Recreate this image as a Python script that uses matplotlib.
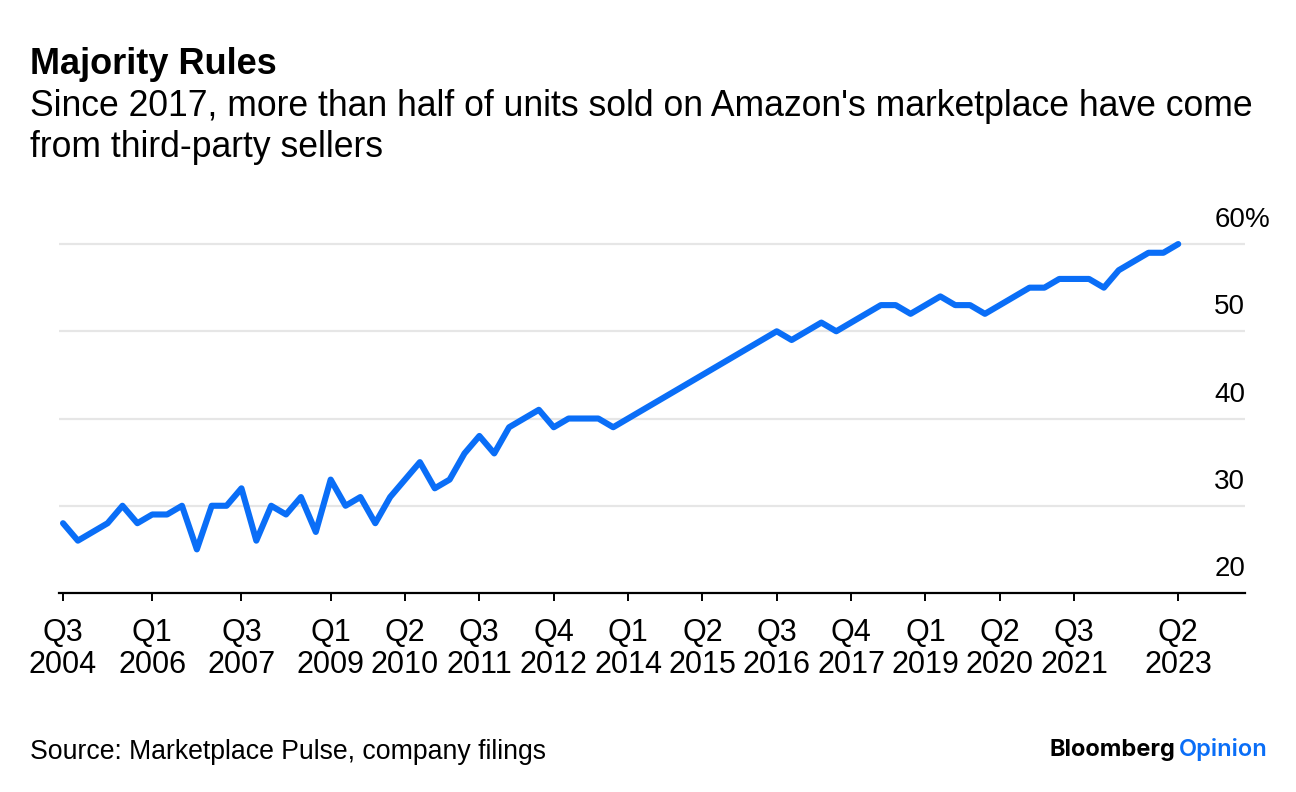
import matplotlib
matplotlib.use('Agg')
import matplotlib.pyplot as plt

# share of units sold by third-party sellers, quarterly Q3 2004 - Q2 2023
quarters = []
for y in range(2004, 2024):
    for q in range(1, 5):
        if (y == 2004 and q < 3) or (y == 2023 and q > 2):
            continue
        quarters.append(f"Q{q}\n{y}")

share = [28, 26, 27, 28, 30, 28, 29, 29, 30, 25,
         30, 30, 32, 26, 30, 29, 31, 27, 33, 30,
         31, 28, 31, 33, 35, 32, 33, 36, 38, 36,
         39, 40, 41, 39, 40, 40, 40, 39, 40, 41,
         42, 43, 44, 45, 46, 47, 48, 49, 50, 49,
         50, 51, 50, 51, 52, 53, 53, 52, 53, 54,
         53, 53, 52, 53, 54, 55, 55, 56, 56, 56,
         55, 57, 58, 59, 59, 60]

tick_idx = [0, 6, 12, 18, 23, 28, 33, 38, 43, 48, 53, 58, 63, 68, 75]
y_ticks = [20, 30, 40, 50, 60]

BLUE = '#0a6ef7'
W, H = 1296, 792

plt.rcParams['font.family'] = ['Liberation Sans', 'DejaVu Sans']

fig = plt.figure(figsize=(W / 100, H / 100), dpi=100)
fig.patch.set_facecolor('white')

# axes placed by pixel
left, right, bottom, top = 59, 1245, 593, 226.6
ax = fig.add_axes([left / W, 1 - bottom / H, (right - left) / W, (bottom - top) / H])

x = list(range(len(share)))
ax.plot(x, share, color=BLUE, lw=4.4, solid_joinstyle='round', solid_capstyle='round', zorder=3, clip_on=False)

ax.set_xlim(-0.27, 79.49)
ax.set_ylim(20, 62)

for v in y_ticks[1:]:
    ax.axhline(v, color='#e6e6e6', lw=1.6, zorder=1)

for side in ['top', 'left', 'right']:
    ax.spines[side].set_visible(False)
ax.spines['bottom'].set_linewidth(1.6)
ax.spines['bottom'].set_color('black')

ax.set_yticks([])
ax.set_xticks(tick_idx)
ax.set_xticklabels([quarters[i] for i in tick_idx], fontsize=22, linespacing=1.1)
ax.tick_params(axis='x', length=6, width=1.4, color='black', pad=12)

ytr = ax.get_yaxis_transform()
for v in y_ticks:
    ax.text(1.0, v + 1.95, str(v), transform=ytr, ha='right', va='baseline', fontsize=20)
ax.text(1.0, y_ticks[-1] + 1.95, '%', transform=ytr, ha='left', va='baseline', fontsize=20)

# titles
fig.text(30 / W, 1 - 74 / H, "Majority Rules", fontsize=26, weight='bold', va='baseline')
fig.text(30 / W, 1 - 116 / H, "Since 2017, more than half of units sold on Amazon's marketplace have come",
         fontsize=25.6, va='baseline')
fig.text(30 / W, 1 - 157 / H, "from third-party sellers", fontsize=25.6, va='baseline')

fig.text(30 / W, 1 - 759 / H, "Source: Marketplace Pulse, company filings", fontsize=19.2, va='baseline')

fig.text(1268 / W, 1 - 756 / H, "Opinion", fontsize=17, color=BLUE, ha='right', va='baseline',
         family='Inter', weight='semibold')
fig.text(1175 / W, 1 - 756 / H, "Bloomberg", fontsize=17, color='black', ha='right', va='baseline',
         family='Inter', weight='bold')

fig.savefig('out.png', dpi=100, facecolor='white')
